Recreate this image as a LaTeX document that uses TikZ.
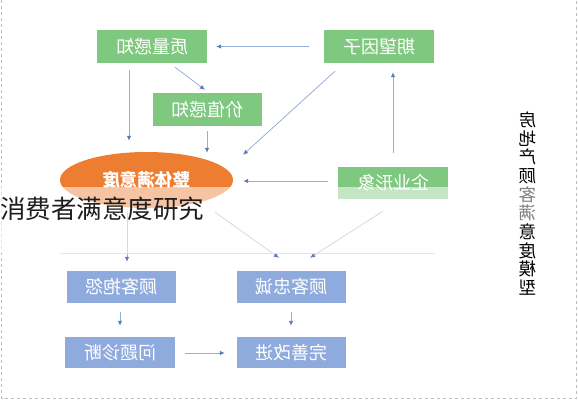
\documentclass[tikz,border=0pt]{standalone}
\usepackage{fontspec}
\setmainfont{Noto Sans CJK SC}
\usepackage{graphicx}
\usetikzlibrary{shapes.geometric,arrows.meta,calc}
\definecolor{boxgreen}{RGB}{127,200,127}
\definecolor{boxblue}{RGB}{143,170,220}
\definecolor{ellorange}{RGB}{237,125,49}
\definecolor{arrline}{RGB}{150,175,215}
\definecolor{arrhead}{RGB}{90,125,185}
\definecolor{overlaytext}{RGB}{30,30,30}
\definecolor{bordergray}{RGB}{190,190,190}
\definecolor{sepline}{RGB}{222,230,242}
\begin{document}
\begin{tikzpicture}[x=1pt,y=-1pt,
  gbox/.style={fill=boxgreen, minimum width=110pt, minimum height=33pt, inner sep=0pt, text=white, font=\fontsize{18}{18}\selectfont},
  bbox/.style={gbox, fill=boxblue, minimum height=32pt},
  arr/.style={draw=arrline, line width=0.8pt, -{Latex[length=5pt,width=4.5pt,color=arrhead]}},
  vchar/.style={font=\fontsize{17.5}{18.7}\selectfont, align=center, text=black, inner sep=0pt}
]
\useasboundingbox (0,0) rectangle (578,400);
% border
\draw[bordergray, dash pattern=on 3pt off 3pt, line width=0.8pt] (1.5,0) -- (1.5,398.5) -- (576.5,398.5) -- (576.5,0);

% nodes
\node[gbox] (q) at (152,46.5) {\reflectbox{质量感知}};
\node[gbox] (e) at (379,46.5) {\reflectbox{期望因子}};
\node[gbox, minimum width=109pt] (v) at (207.5,109.5) {\reflectbox{价值感知}};
\node[ellipse, fill=ellorange, minimum width=173pt, minimum height=56pt, inner sep=0pt, text=white, font=\bfseries\fontsize{17.5}{17.5}\selectfont] (s) at (146.5,180) {\reflectbox{整体满意度}};
\node[gbox, minimum height=32pt] (c) at (393,183) {\reflectbox{企业形象}};
\node[bbox, minimum width=109pt] (a) at (121.5,287) {\reflectbox{顾客抱怨}};
\node[bbox, minimum width=109pt] (l) at (291.5,287) {\reflectbox{顾客忠诚}};
\node[bbox, minimum height=31pt] (d) at (120,352.5) {\reflectbox{问题诊断}};
\node[bbox, minimum width=109pt, minimum height=31pt] (g) at (291.5,352.5) {\reflectbox{完善改进}};

% vertical title
\node[vchar] (t) at (527.5,203.5) {\reflectbox{房}\\\reflectbox{地}\\\reflectbox{产}\\\reflectbox{顾}\\\textcolor{gray}{\reflectbox{客}}\\\textcolor{gray}{\reflectbox{满}}\\\reflectbox{意}\\\reflectbox{度}\\\reflectbox{模}\\\reflectbox{型}};

% connectors
\draw[arr] ($(e.west)+(-15,0)$) -- ($(q.east)+(9,0)$);
\draw[arr] ($(q.south)+(23,4)$) -- ($(v.north)+(-2.5,-3)$);
\draw[arr] ($(q.south)+(-23,7)$) -- ($(s.north)+(-17.5,-11)$);
\draw[arr] ($(v.south)+(-0.5,5)$) -- ($(s.north)+(60.5,1)$);
\draw[arr] ($(e.south)+(-44,8)$) -- ($(s.north)+(96.5,3)$);
\draw[arr] ($(c.north)+(0,-14)$) -- ($(e.south)+(14,9)$);
\draw[arr] ($(c.west)+(-10,-2)$) -- ($(s.east)+(10,1)$);
\draw[arr] ($(s.south)+(-19.5,4)$) -- ($(a.north)+(5.5,-9)$);
\draw[arr] ($(s.south)+(68.5,4)$) -- ($(l.north)+(-12.5,-13)$);
\draw[arr] ($(c.south)+(-10,12)$) -- ($(l.north)+(18.5,-13)$);
\draw[arr] ($(a.south)+(-1.5,9)$) -- ($(d.north)+(0,-11)$);
\draw[arr] ($(l.south)+(-0.5,9)$) -- ($(g.north)+(-0.5,-11)$);
\draw[arr] ($(d.east)+(10,0.5)$) -- ($(g.west)+(-12,0.5)$);

% translucent band and separator
\fill[white, opacity=0.55] (0,187) rectangle (470,253);
\draw[sepline, line width=0.8pt] (60,253.5) -- (435,253.5);

% overlay caption
\node[anchor=west, inner sep=0pt, font=\fontsize{25.5}{25.5}\selectfont, text=overlaytext] (o) at (0,208.5) {消费者满意度研究};
\end{tikzpicture}
\end{document}
